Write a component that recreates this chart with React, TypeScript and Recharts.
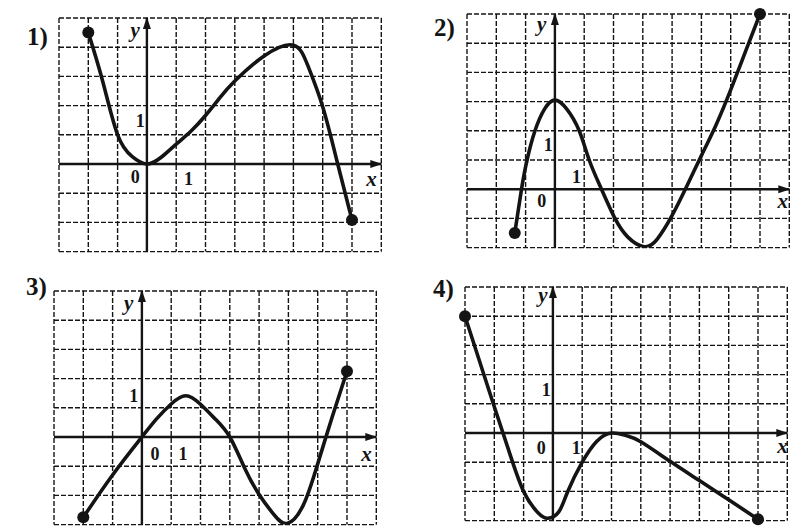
import { CartesianGrid, Line, LineChart, ReferenceDot, ReferenceLine, XAxis, YAxis } from 'recharts';

const xTicks = [-3, -2, -1, 0, 1, 2, 3, 4, 5, 6, 7, 8];
const yTicksLow = [-3, -2, -1, 0, 1, 2, 3, 4, 5];
const yTicksHigh = [-2, -1, 0, 1, 2, 3, 4, 5, 6];

// graph 1)
const g1X = [-2, -1.5, -1, -0.5, 0, 0.5, 1, 1.5, 2, 2.5, 3, 4, 5, 5.5, 6, 6.5, 7];
const g1Y = [4.5, 2.8, 1.0, 0.25, 0, 0.24, 0.68, 1.12, 1.66, 2.28, 2.84, 3.7, 4.07, 3.35, 1.96, 0.05, -1.92];

// graph 2)
const g2X = [-1.37, -1.14, -0.95, -0.68, -0.35, 0, 0.4, 0.83, 1.17, 1.59, 2.05, 2.5, 3.05, 3.5, 4, 4.5, 5, 5.5, 6, 6.5, 7];
const g2Y = [-1.5, 0, 1, 2, 2.75, 3.05, 2.75, 2, 1, 0, -1, -1.65, -1.97, -1.7, -0.9, 0.1, 1.15, 2.2, 3.4, 4.7, 6];

// graph 3)
const g3X = [-2, -1, 0, 0.5, 1, 1.5, 2, 2.5, 3, 3.5, 4, 4.5, 4.95, 5.5, 6, 6.5, 7];
const g3Y = [-2.75, -1.3, 0, 0.62, 1.13, 1.41, 1.12, 0.62, 0, -1.05, -1.97, -2.65, -2.96, -2.35, -0.92, 0.7, 2.25];

// graph 4)
const g4X = [-3, -2.5, -2, -1.5, -1, -0.5, -0.17, 0.2, 0.5, 1, 1.5, 2, 2.5, 3, 4, 5, 6, 7];
const g4Y = [4, 2.45, 0.9, -0.62, -2.0, -2.74, -2.92, -2.7, -2.02, -1.0, -0.28, 0, -0.09, -0.3, -0.97, -1.63, -2.29, -2.95];

const INK = '#141414';
const CELL_W = 29.3;
const CELL_H = 29.2;
const PAD = 16;
const SERIF = '"Liberation Serif", "DejaVu Serif", serif';

type Note = { text: string; x: number; y: number; italic?: boolean };

type PanelProps = {
  num: string;
  left: number;
  top: number;
  numLeft: number;
  numTop: number;
  xs: number[];
  ys: number[];
  yTicks: number[];
  notes: Note[];
};

function Panel({ num, left, top, numLeft, numTop, xs, ys, yTicks, notes }: PanelProps) {
  const rows = xs.map((x, i) => ({ x, y: ys[i] }));
  const yMin = yTicks[0];
  const yMax = yTicks[yTicks.length - 1];
  const width = (xTicks.length - 1) * CELL_W + PAD * 2;
  const height = (yTicks.length - 1) * CELL_H + PAD * 2;
  const last = rows.length - 1;

  return (
    <>
      <div
        style={{
          position: 'absolute',
          left: numLeft,
          top: numTop,
          fontFamily: SERIF,
          fontWeight: 700,
          fontSize: 25,
          lineHeight: 1,
          color: INK,
        }}
      >
        {num}
      </div>
      <div style={{ position: 'absolute', left: left - PAD, top: top - PAD }}>
        <LineChart width={width} height={height} data={rows} margin={{ top: PAD, right: PAD, bottom: PAD, left: PAD }}>
          <CartesianGrid
            stroke={INK}
            strokeWidth={1.4}
            strokeDasharray="5 2"
            verticalValues={xTicks}
            horizontalValues={yTicks}
          />
          <XAxis dataKey="x" type="number" domain={[xTicks[0], xTicks[xTicks.length - 1]]} ticks={xTicks} hide allowDataOverflow />
          <YAxis type="number" domain={[yMin, yMax]} ticks={yTicks} hide allowDataOverflow />
          <ReferenceLine x={0} stroke={INK} strokeWidth={2.4} />
          <ReferenceLine y={0} stroke={INK} strokeWidth={2.4} />
          <ReferenceDot
            x={xTicks[xTicks.length - 1]}
            y={0}
            r={0}
            shape={(p: any) => (
              <path d={`M${p.cx + 1},${p.cy} L${p.cx - 11},${p.cy - 4} L${p.cx - 11},${p.cy + 4} Z`} fill={INK} />
            )}
          />
          <ReferenceDot
            x={0}
            y={yMax}
            r={0}
            shape={(p: any) => (
              <path d={`M${p.cx},${p.cy - 1} L${p.cx - 4},${p.cy + 11} L${p.cx + 4},${p.cy + 11} Z`} fill={INK} />
            )}
          />
          {notes.map((n, i) => (
            <ReferenceDot
              key={i}
              x={n.x}
              y={n.y}
              r={0}
              shape={(p: any) => (
                <text
                  x={p.cx}
                  y={p.cy}
                  textAnchor="middle"
                  dominantBaseline="central"
                  fontFamily={SERIF}
                  fontWeight={700}
                  fontStyle={n.italic ? 'italic' : 'normal'}
                  fontSize={n.italic ? 21 : 18}
                  fill={INK}
                >
                  {n.text}
                </text>
              )}
            />
          ))}
          <Line
            type="natural"
            dataKey="y"
            stroke={INK}
            strokeWidth={3.6}
            dot={false}
            isAnimationActive={false}
          />
          <ReferenceDot x={rows[0].x} y={rows[0].y} r={6} fill={INK} stroke="none" ifOverflow="visible" />
          <ReferenceDot x={rows[last].x} y={rows[last].y} r={6} fill={INK} stroke="none" ifOverflow="visible" />
        </LineChart>
      </div>
    </>
  );
}

export default function App() {
  return (
    <div style={{ position: 'absolute', left: 0, top: 0, width: 792, height: 526, background: '#fff', overflow: 'hidden' }}>
      <Panel
        num="1)"
        left={58.8}
        top={17.5}
        numLeft={27}
        numTop={24}
        xs={g1X}
        ys={g1Y}
        yTicks={yTicksLow}
        notes={[
          { text: 'y', x: -0.4, y: 4.6, italic: true },
          { text: 'x', x: 7.67, y: -0.51, italic: true },
          { text: '0', x: -0.4, y: -0.45 },
          { text: '1', x: 1.42, y: -0.51 },
          { text: '1', x: -0.23, y: 1.48 },
        ]}
      />
      <Panel
        num="2)"
        left={467.1}
        top={14.1}
        numLeft={434}
        numTop={15}
        xs={g2X}
        ys={g2Y}
        yTicks={yTicksHigh}
        notes={[
          { text: 'y', x: -0.45, y: 5.66, italic: true },
          { text: 'x', x: 7.78, y: -0.42, italic: true },
          { text: '0', x: -0.45, y: -0.42 },
          { text: '1', x: 0.74, y: 0.43 },
          { text: '1', x: -0.23, y: 1.51 },
        ]}
      />
      <Panel
        num="3)"
        left={53.8}
        top={290.5}
        numLeft={26}
        numTop={274}
        xs={g3X}
        ys={g3Y}
        yTicks={yTicksLow}
        notes={[
          { text: 'y', x: -0.45, y: 4.6, italic: true },
          { text: 'x', x: 7.67, y: -0.57, italic: true },
          { text: '0', x: 0.45, y: -0.57 },
          { text: '1', x: 1.4, y: -0.57 },
          { text: '1', x: -0.28, y: 1.42 },
        ]}
      />
      <Panel
        num="4)"
        left={465.4}
        top={287.3}
        numLeft={433}
        numTop={276}
        xs={g4X}
        ys={g4Y}
        yTicks={yTicksLow}
        notes={[
          { text: 'y', x: -0.34, y: 4.72, italic: true },
          { text: 'x', x: 7.84, y: -0.45, italic: true },
          { text: '0', x: -0.4, y: -0.51 },
          { text: '1', x: 0.8, y: -0.51 },
          { text: '1', x: -0.23, y: 1.48 },
        ]}
      />
    </div>
  );
}
